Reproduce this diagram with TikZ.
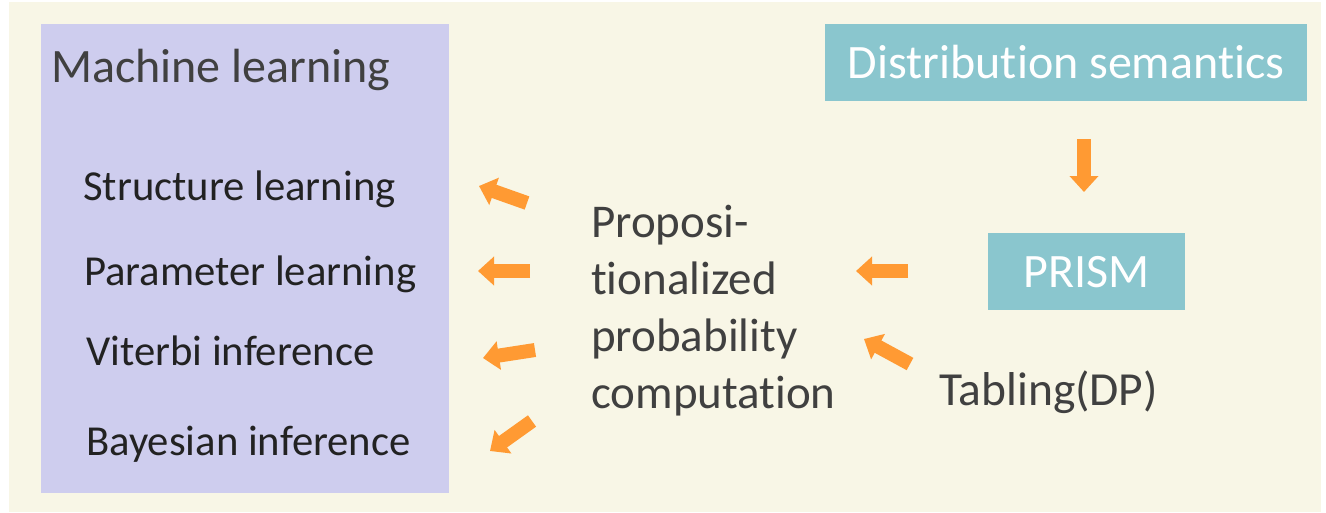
\documentclass[tikz,border=0pt]{standalone}
\usepackage{fontspec}
\setmainfont{Carlito}[Ligatures=NoCommon]
\usetikzlibrary{arrows.meta}
\definecolor{cream}{HTML}{F8F6E6}
\definecolor{panelblue}{HTML}{CECDEE}
\definecolor{teal}{HTML}{8AC6CE}
\definecolor{flow}{HTML}{FF9A33}
\definecolor{ink}{HTML}{404040}
\definecolor{darkink}{HTML}{222222}
\tikzset{
  panel/.style={fill=panelblue, draw=none, anchor=north west, inner sep=0pt},
  tealbox/.style={fill=teal, draw=none, text=white, anchor=north west, inner sep=0pt,
    font=\fontsize{48}{58}\selectfont, text height=31pt, text depth=0pt},
  item/.style={anchor=base west, inner sep=0pt, text=darkink, font=\fontsize{42.7}{50}\selectfont},
  label/.style={anchor=base west, inner sep=0pt, text=ink, font=\fontsize{47}{56.7}\selectfont},
  blockarrow/.style={draw=flow, line width=14pt, line cap=butt,
    -{Triangle[width=28pt,length=16pt,fill=flow]}}
}
\begin{document}
\begin{tikzpicture}[x=1pt,y=-1pt]
\useasboundingbox (0,0) rectangle (1326,512);
\fill[cream] (9,2) rectangle (1321,512);

% left panel with its list
\node[panel, minimum width=408pt, minimum height=469pt] (ml) at (41,24) {};
\node[label, font=\fontsize{48}{58}\selectfont] (mltitle) at (51,82) {Machine learning};
\node[item] (struct) at (83,200) {Structure learning};
\node[item] (param) at (84,285) {Parameter learning};
\node[item] (viterbi) at (86,365) {Viterbi inference};
\node[item] (bayes) at (86,455) {Bayesian inference};

% right side boxes
\node[tealbox, minimum width=482pt, minimum height=77pt] (dist) at (825,24) {Distribution semantics};
\node[tealbox, minimum width=197pt, minimum height=77pt] (prism) at (988,233) {PRISM};

% middle and lower texts (base anchor sits on the last line)
\node[label, align=left] (prop) at (591,408) {Proposi-\\tionalized\\probability\\computation};
\node[label, font=\fontsize{47.5}{57}\selectfont] (tabling) at (939,405) {Tabling(DP)};

% block arrows
\coordinate (s1) at (527,203); \coordinate (e1) at (479,186);
\coordinate (s2) at (530,271); \coordinate (e2) at (478,271);
\coordinate (s3) at (535,350); \coordinate (e3) at (483,358);
\coordinate (s4) at (532,421); \coordinate (e4) at (490,451);
\coordinate (s5) at (908,271); \coordinate (e5) at (856,271);
\coordinate (s6) at (910,364); \coordinate (e6) at (864,339);
\coordinate (s7) at (1084,139); \coordinate (e7) at (1084,192);
\foreach \i in {1,...,7} {\draw[blockarrow] (s\i) -- (e\i);}
\end{tikzpicture}
\end{document}
